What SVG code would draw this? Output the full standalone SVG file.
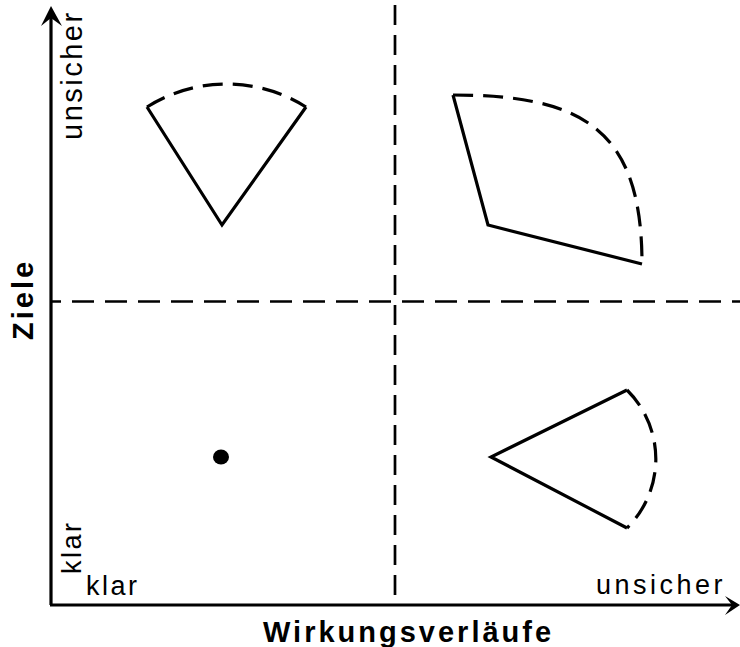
<svg xmlns="http://www.w3.org/2000/svg" width="740" height="647" viewBox="0 0 740 647">
<style>
.ax{stroke:#000;stroke-width:3.2;fill:none}
.sol{stroke:#000;stroke-width:3.2;fill:none;stroke-linejoin:miter}
.dsh{stroke:#000;stroke-width:3.2;fill:none;stroke-dasharray:20 10}
.grid{stroke:#000;stroke-width:2.7;fill:none}
.t{font-family:"Liberation Sans",Arial,sans-serif;fill:#000}
.b{font-family:"Liberation Sans",Arial,sans-serif;font-weight:bold;fill:#000}
</style>
<rect width="740" height="647" fill="#fff"/>
<g id="connectors">
<line class="grid" x1="395" y1="5" x2="395" y2="605" stroke-dasharray="20 10"/>
<line class="grid" x1="51" y1="301.5" x2="740" y2="301.5" stroke-dasharray="22 11" stroke-dashoffset="12"/>
</g>
<g id="axes">
<line class="ax" x1="51" y1="605" x2="51" y2="14"/>
<path d="M51,6 L41,26 L51,18 L62,26 Z" fill="#000"/>
<line class="ax" x1="50" y1="605" x2="733" y2="605"/>
<path d="M740,605 L725,596 L732,605 L725,615 Z" fill="#000"/>
</g>
<g id="labels">
<text class="t" font-size="29" letter-spacing="2.5" transform="translate(82,140) rotate(-90)">unsicher</text>
<text class="t" font-size="27" letter-spacing="2.5" transform="translate(81,574) rotate(-90)">klar</text>
<text class="t" font-size="27" letter-spacing="2.5" x="86" y="595">klar</text>
<text class="t" font-size="27" letter-spacing="3.5" x="596" y="594">unsicher</text>
<text class="b" font-size="29" letter-spacing="3" transform="translate(33,340) rotate(-90)">Ziele</text>
<text class="b" font-size="29" letter-spacing="3" x="263" y="642">Wirkungsverläufe</text>
</g>
<g id="node-unklar-klar">
<path class="sol" d="M147,107 L222,225 L306,107"/>
<path class="dsh" d="M147,107 A149,149 0 0 1 306,107"/>
</g>
<g id="node-unsicher-unsicher">
<path class="sol" d="M453,95 L488,225 L642,264"/>
<path class="dsh" d="M453,95 C583,95 642,129 642,264"/>
</g>
<g id="node-klar-unsicher">
<path class="sol" d="M627,390 L491,457 L627,528"/>
<path class="dsh" d="M627,390 A97,97 0 0 1 627,528"/>
</g>
<g id="node-klar-klar">
<ellipse cx="221" cy="457" rx="8" ry="7.5" fill="#000"/>
</g>
</svg>
